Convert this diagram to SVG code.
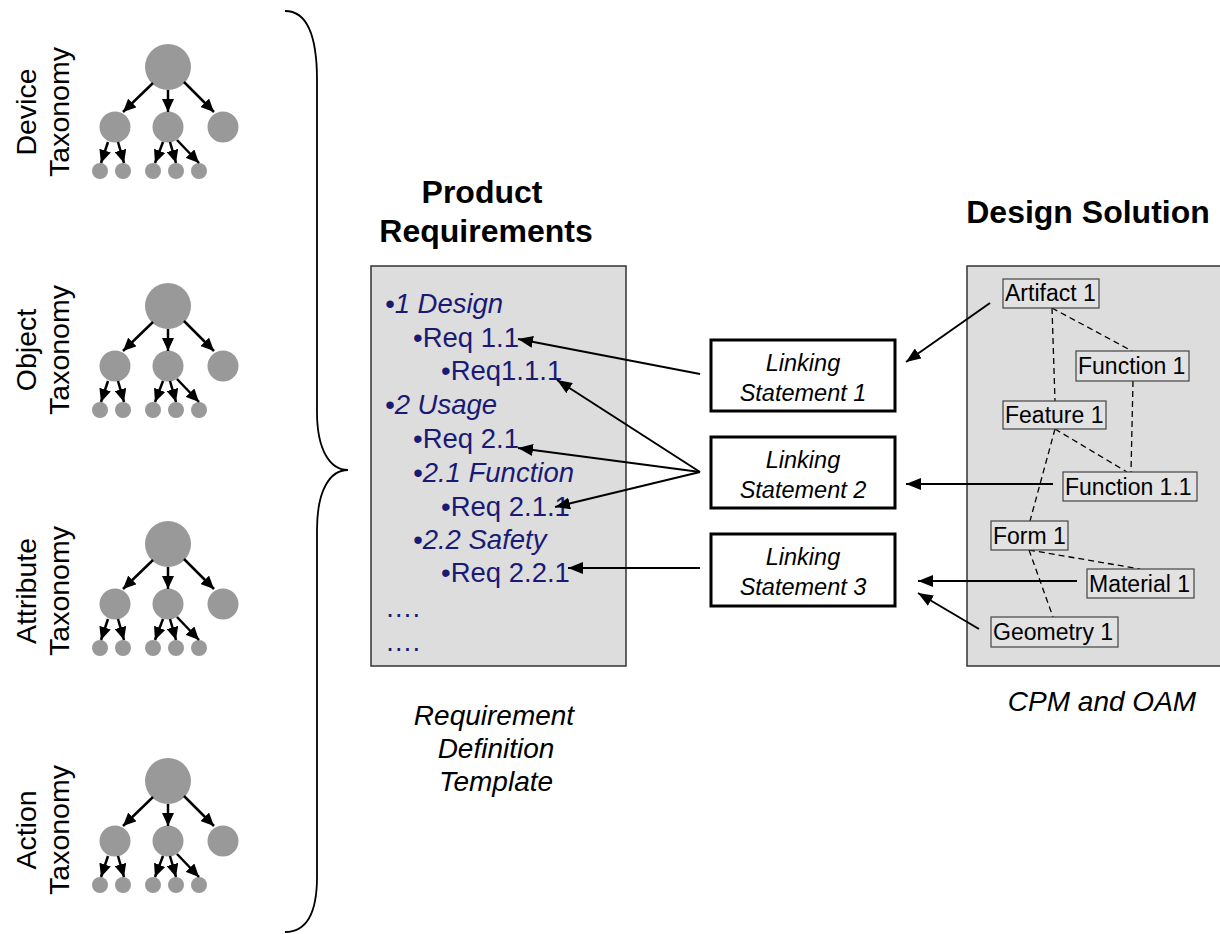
<svg xmlns="http://www.w3.org/2000/svg" width="1220" height="934" viewBox="0 0 1220 934">
<style>
  text { font-family: "Liberation Sans", Arial, sans-serif; }
  .tax { font-size: 28.5px; fill: #000; text-anchor: middle; }
  .title { font-size: 32px; font-weight: bold; fill: #000; text-anchor: middle; }
  .cap { font-size: 28px; font-style: italic; fill: #000; text-anchor: middle; }
  .req { font-size: 27.5px; fill: #1a1a75; }
  .it { font-style: italic; }
  .link { font-size: 23.5px; font-style: italic; fill: #000; text-anchor: middle; }
  .item { font-size: 23px; fill: #000; }
  .bigbox { fill: #dddddd; stroke: #333; stroke-width: 1.5; }
  .lbox { fill: #fff; stroke: #000; stroke-width: 3; }
  .ibox { fill: #e2e2e2; stroke: #444; stroke-width: 1.2; }
  .dash { stroke: #000; stroke-width: 1.3; stroke-dasharray: 6 4; fill: none; }
  .conn { stroke: #000; stroke-width: 2; fill: none; marker-end: url(#ah); }
  .tarr { stroke: #000; stroke-width: 2.5; fill: none; marker-end: url(#th); }
  .dot { fill: #999999; }
</style>
<defs>
  <marker id="ah" markerUnits="userSpaceOnUse" markerWidth="16" markerHeight="12" refX="15" refY="6" orient="auto">
    <path d="M0,0 L15,6 L0,12 Z" fill="#000"/>
  </marker>
  <marker id="th" markerUnits="userSpaceOnUse" markerWidth="14" markerHeight="12" refX="13" refY="6" orient="auto">
    <path d="M0,0 L13,6 L0,12 Z" fill="#000"/>
  </marker>
  <g id="tree">
    <circle class="dot" cx="168" cy="67" r="23"/>
    <circle class="dot" cx="115" cy="127" r="15.5"/>
    <circle class="dot" cx="168" cy="127" r="15.5"/>
    <circle class="dot" cx="223" cy="127" r="15.5"/>
    <circle class="dot" cx="100" cy="171" r="8"/>
    <circle class="dot" cx="123" cy="171" r="8"/>
    <circle class="dot" cx="153" cy="171" r="8"/>
    <circle class="dot" cx="176" cy="171" r="8"/>
    <circle class="dot" cx="199" cy="171" r="8"/>
    <path class="tarr" d="M153,83 L123,112"/>
    <path class="tarr" d="M168,90 L168,112"/>
    <path class="tarr" d="M184,82 L214,112"/>
    <path class="tarr" d="M108,142 L101,163"/>
    <path class="tarr" d="M118,142 L124,163"/>
    <path class="tarr" d="M163,142 L155,163"/>
    <path class="tarr" d="M170,142 L176,163"/>
    <path class="tarr" d="M177,140 L199,163"/>
  </g>
</defs>
<rect width="1220" height="934" fill="#fff"/>

<g id="device-taxonomy">
  <text class="tax" transform="translate(36,112) rotate(-90)">Device</text>
  <text class="tax" transform="translate(69,112) rotate(-90)">Taxonomy</text>
  <use href="#tree"/>
</g>
<g id="object-taxonomy">
  <text class="tax" transform="translate(36,350) rotate(-90)">Object</text>
  <text class="tax" transform="translate(69,350) rotate(-90)">Taxonomy</text>
  <use href="#tree" transform="translate(0,239)"/>
</g>
<g id="attribute-taxonomy">
  <text class="tax" transform="translate(36,591) rotate(-90)">Attribute</text>
  <text class="tax" transform="translate(69,591) rotate(-90)">Taxonomy</text>
  <use href="#tree" transform="translate(0,477)"/>
</g>
<g id="action-taxonomy">
  <text class="tax" transform="translate(36,830) rotate(-90)">Action</text>
  <text class="tax" transform="translate(69,830) rotate(-90)">Taxonomy</text>
  <use href="#tree" transform="translate(0,714)"/>
</g>

<g id="brace">
  <path d="M285,11 C305,11 317,30 317,80 L317,412 C317,450 330,470 348,470 C330,470 317,490 317,530 L317,877 C317,915 305,932 285,932" fill="none" stroke="#000" stroke-width="1.8"/>
</g>

<g id="product-requirements">
  <text class="title" x="482" y="203">Product</text>
  <text class="title" x="486" y="242">Requirements</text>
  <rect class="bigbox" x="371" y="266" width="255" height="400"/>
  <text class="req it" x="385" y="313">•1 Design</text>
  <text class="req" x="413" y="347">•Req 1.1</text>
  <text class="req" x="441" y="380">•Req1.1.1</text>
  <text class="req it" x="385" y="414">•2 Usage</text>
  <text class="req" x="413" y="448">•Req 2.1</text>
  <text class="req it" x="413" y="482">•2.1 Function</text>
  <text class="req" x="441" y="516">•Req 2.1.1</text>
  <text class="req it" x="413" y="549">•2.2 Safety</text>
  <text class="req" x="441" y="582">•Req 2.2.1</text>
  <text class="req" x="385" y="617">….</text>
  <text class="req" x="385" y="651">….</text>
  <text class="cap" x="494" y="725">Requirement</text>
  <text class="cap" x="496" y="758">Definition</text>
  <text class="cap" x="496" y="791">Template</text>
</g>

<g id="linking-1">
  <rect class="lbox" x="711" y="340" width="184" height="71"/>
  <text class="link" x="803" y="371">Linking</text>
  <text class="link" x="803" y="401">Statement 1</text>
</g>
<g id="linking-2">
  <rect class="lbox" x="711" y="437" width="184" height="71"/>
  <text class="link" x="803" y="468">Linking</text>
  <text class="link" x="803" y="498">Statement 2</text>
</g>
<g id="linking-3">
  <rect class="lbox" x="711" y="534" width="184" height="72"/>
  <text class="link" x="803" y="565">Linking</text>
  <text class="link" x="803" y="595">Statement 3</text>
</g>

<g id="design-solution">
  <text class="title" x="1088" y="223">Design Solution</text>
  <rect class="bigbox" x="967" y="266" width="262" height="400"/>
  <text class="cap" x="1102" y="711">CPM and OAM</text>
</g>

<g id="design-links">
  <path class="dash" d="M1052,308 L1055,401"/>
  <path class="dash" d="M1052,308 L1132,351"/>
  <path class="dash" d="M1133,381 L1131,472"/>
  <path class="dash" d="M1055,429 L1127,472"/>
  <path class="dash" d="M1055,429 L1030,521"/>
  <path class="dash" d="M1029,550 L1140,569"/>
  <path class="dash" d="M1029,550 L1053,617"/>
</g>

<g id="artifact-1"><rect class="ibox" x="1003" y="279" width="96" height="29"/><text class="item" x="1005" y="301">Artifact 1</text></g>
<g id="function-1"><rect class="ibox" x="1076" y="351" width="113" height="30"/><text class="item" x="1078" y="374">Function 1</text></g>
<g id="feature-1"><rect class="ibox" x="1003" y="401" width="103" height="28"/><text class="item" x="1005" y="423">Feature 1</text></g>
<g id="function-1-1"><rect class="ibox" x="1063" y="472" width="134" height="29"/><text class="item" x="1065" y="495">Function 1.1</text></g>
<g id="form-1"><rect class="ibox" x="991" y="521" width="77" height="29"/><text class="item" x="993" y="544">Form 1</text></g>
<g id="material-1"><rect class="ibox" x="1087" y="569" width="107" height="29"/><text class="item" x="1089" y="592">Material 1</text></g>
<g id="geometry-1"><rect class="ibox" x="991" y="617" width="127" height="30"/><text class="item" x="993" y="640">Geometry 1</text></g>

<g id="connectors">
  <path class="conn" d="M700,374 L518,339"/>
  <path class="conn" d="M700,472 L557,380"/>
  <path class="conn" d="M700,472 L518,448"/>
  <path class="conn" d="M700,472 L555,507"/>
  <path class="conn" d="M700,568 L568,568"/>
  <path class="conn" d="M990,303 L906,362"/>
  <path class="conn" d="M1053,484 L906,484"/>
  <path class="conn" d="M1077,581 L918,581"/>
  <path class="conn" d="M979,629 L918,593"/>
</g>
</svg>
